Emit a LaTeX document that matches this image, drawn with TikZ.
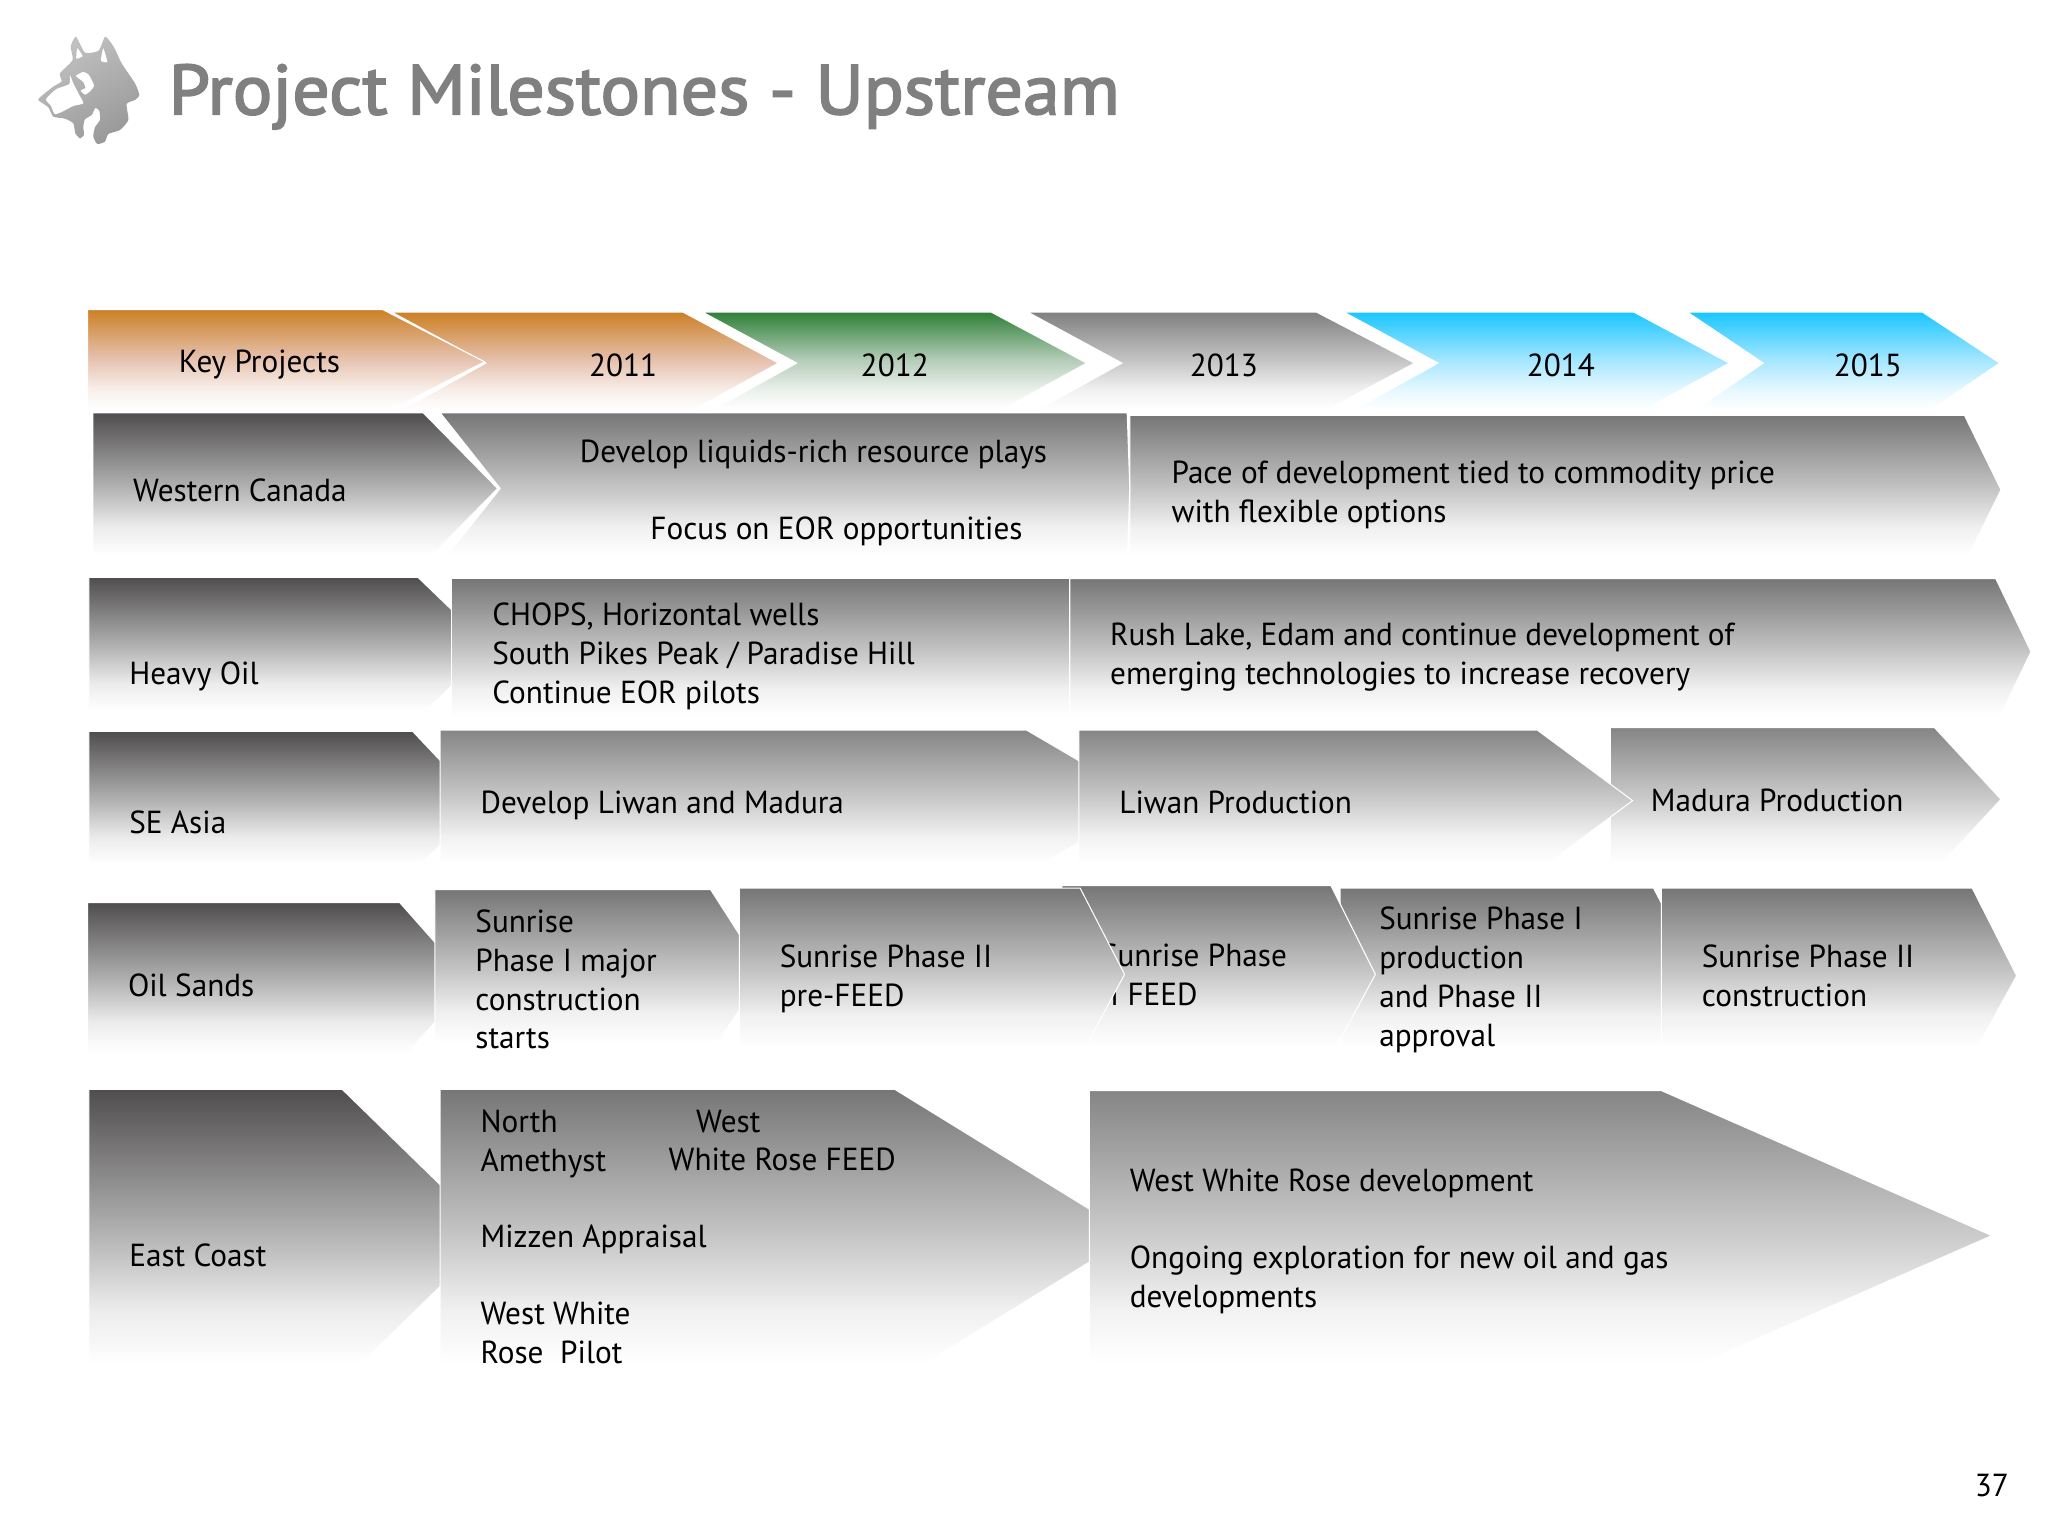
\documentclass[tikz,border=0pt]{standalone}
\usepackage{fontspec}
\setmainfont[FakeStretch=0.98]{PT Sans}
\newfontfamily\titlefont[FakeBold=2.5,FakeStretch=1.05]{PT Sans}
\definecolor{cDark}{HTML}{4F4D4E}
\definecolor{cMid}{HTML}{777677}
\definecolor{cLight}{HTML}{868586}
\definecolor{cOrange}{HTML}{CC8026}
\definecolor{cPeach}{HTML}{E5C0AC}
\definecolor{cGreen}{HTML}{2F8038}
\definecolor{cSage}{HTML}{B4CCB8}
\definecolor{cCyan}{HTML}{1AC6FF}
\definecolor{cSky}{HTML}{A4E6FF}
\definecolor{cHead}{HTML}{808080}
\newcommand{\ramp}[3]{\pgfdeclareverticalshading{#1}{100bp}{color(0bp)=(white);color(28bp)=(white);color(37.5bp)=(#3!11!white);color(50bp)=(#3!42!white);color(75bp)=(#2);color(100bp)=(#2)}}
\ramp{gDark}{cDark}{cDark}
\ramp{gMid}{cMid}{cMid}
\ramp{gLight}{cLight}{cLight}
\ramp{gHead}{cHead}{cHead}
\pgfdeclareverticalshading{gOrange}{100bp}{color(0bp)=(white);color(28bp)=(white);color(37.5bp)=(cPeach!28!white);color(52bp)=(cPeach);color(75bp)=(cOrange);color(100bp)=(cOrange)}
\pgfdeclareverticalshading{gGreen}{100bp}{color(0bp)=(white);color(28bp)=(white);color(37.5bp)=(cSage!28!white);color(52bp)=(cSage);color(75bp)=(cGreen);color(100bp)=(cGreen)}
\pgfdeclareverticalshading{gCyan}{100bp}{color(0bp)=(white);color(28bp)=(white);color(37.5bp)=(cSky!28!white);color(52bp)=(cSky);color(75bp)=(cCyan);color(100bp)=(cCyan)}
\tikzset{
  bar/.style={shade,shading=#1,draw=white,line width=0.8pt,line join=miter},
  txt/.style={anchor=north west,inner sep=0pt,outer sep=0pt,align=left,text=black,
    font=\fontsize{24.4}{29.7}\selectfont}
}
\newcommand{\tb}[4][txt]{\node[#1] (#2) at #3 {\rule{0pt}{22pt}#4};}
\begin{document}
\begin{tikzpicture}[x=1pt,y=-1pt]
\path[fill=white] (0,0) rectangle (1568,1176.8);
\useasboundingbox (0,0) rectangle (1568,1176.8);
% logo
\begin{scope}[shift={(15.3,15.3)},x=0.2552pt,y=-0.2552pt]
\path[shade,top color=black!24,bottom color=black!40,shading angle=30] plot[smooth cycle,tension=0.35] coordinates {
 (168,50)(195,98)(236,92)(256,50)(282,82)(305,130)(345,190)(358,225)(345,240)(320,252)(325,300)(300,330)(265,342)(255,365)(232,372)(220,350)(225,322)(240,300)(238,272)(226,264)(215,285)(195,298)(190,320)(192,345)(180,355)(166,340)(160,310)(135,296)(100,290)(85,262)(55,240)(72,222)(100,200)(125,184)(120,160)(158,120)(152,80)};
\fill[white] plot[smooth cycle,tension=0.3] coordinates {(172,85)(169,116)(188,108)};
\fill[white] plot[smooth cycle,tension=0.3] coordinates {(250,85)(243,122)(262,126)};
\fill[white] plot[smooth cycle,tension=0.35] coordinates {(78,238)(108,208)(148,192)(150,166)(160,190)(178,225)(190,250)(160,258)(125,276)(104,282)(92,256)};
\fill[white] plot[smooth cycle,tension=0.35] coordinates {(168,168)(190,156)(206,164)(222,196)(212,212)(196,224)(182,212)(196,204)(190,186)};
\end{scope}
\node[anchor=base west,inner sep=0pt,text=cHead,font=\fontsize{54}{60}\selectfont\titlefont] (title) at (129,87.5) {Project Milestones - Upstream};
% header row
\path[bar=gCyan] (1292,239)--(1472,239)--(1531,278)--(1472,318)--(1292,318)--(1350,278)--cycle;
\path[bar=gCyan] (1029,239)--(1251,239)--(1324,278)--(1251,318)--(1029,318)--(1101,278)--cycle;
\path[bar=gHead] (787,239)--(1008,239)--(1083,278)--(1008,318)--(787,318)--(859,278)--cycle;
\path[bar=gGreen] (538,239)--(759,239)--(832,278)--(759,318)--(538,318)--(610,278)--cycle;
\path[bar=gOrange] (300,239)--(523,239)--(596,278)--(523,318)--(300,318)--(372,278)--cycle;
\path[bar=gOrange] (67,237)--(293,237)--(371,277)--(293,317)--(67,317)--cycle;
\tb{t0}{(137,263)}{Key Projects}
\tb{t11}{(451,266)}{2011}
\tb{t12}{(659,266)}{2012}
\tb{t13}{(911,266)}{2013}
\tb{t14}{(1169,266)}{2014}
\tb{t15}{(1404,266)}{2015}
% row 1
\path[bar=gMid] (865,318)--(1504,318)--(1532,375)--(1504,432)--(865,432)--cycle;
\path[bar=gMid] (337,316)--(863,316)--(865,374)--(863,432)--(337,432)--(383,374)--cycle;
\path[bar=gDark] (71,316)--(324,316)--(381,374)--(324,432)--(71,432)--cycle;
\tb{wc}{(102,362)}{Western Canada}
\tb{wc1}{(444,332)}{Develop liquids-rich resource plays}
\tb{wc2}{(498,391)}{Focus on EOR opportunities}
\tb{wc3}{(897,348)}{Pace of development tied to commodity price\\with flexible options}
% row 2
\path[bar=gDark] (68,442)--(320,442)--(376,496)--(320,550)--(68,550)--cycle;
\path[bar=gMid] (819,443)--(1528,443)--(1555,499)--(1528,555)--(819,555)--cycle;
\path[bar=gMid] (346,443)--(819,443)--(819,555)--(346,555)--cycle;
\tb{ho}{(99,502)}{Heavy Oil}
\tb{ho1}{(377,457)}{CHOPS, Horizontal wells\\South Pikes Peak / Paradise Hill\\Continue EOR pilots}
\tb{ho2}{(850,472)}{Rush Lake, Edam and continue development of\\emerging technologies to increase recovery}
% row 3
\path[bar=gDark] (68,560)--(316,560)--(368,615)--(316,668)--(68,668)--cycle;
\path[bar=gLight] (337,559)--(786,559)--(880,614)--(786,668)--(337,668)--cycle;
\path[bar=gLight] (1233,557)--(1481,557)--(1532,612)--(1481,667)--(1233,667)--cycle;
\path[bar=gLight] (826,559)--(1177,559)--(1250,613)--(1177,667)--(826,667)--cycle;
\tb{se}{(99,616)}{SE Asia}
\tb{se1}{(368,601)}{Develop Liwan and Madura}
\tb{se2}{(857,601)}{Liwan Production}
\tb{se3}{(1264,599)}{Madura Production}
% row 4
\path[bar=gDark] (67,691)--(306,691)--(360,752)--(306,813)--(67,813)--cycle;
\path[bar=gMid] (1026,680)--(1266,680)--(1300,745)--(1266,809)--(1026,809)--cycle;
\path[bar=gMid] (1272,680)--(1510,680)--(1544,747)--(1510,809)--(1272,809)--cycle;
\path[bar=gMid] (813,678)--(1019,678)--(1053,746)--(1019,809)--(813,809)--cycle;
\tb{os3}{(843,718)}{Sunrise Phase\\II FEED}
\path[bar=gMid] (333,681)--(544,681)--(585,745)--(544,806)--(333,806)--cycle;
\path[bar=gMid] (566,680)--(827,680)--(861,746)--(827,809)--(566,809)--cycle;
\tb{os}{(98,741)}{Oil Sands}
\tb{os1}{(364,692)}{Sunrise\\Phase I major\\construction\\starts}
\tb{os2}{(597,719)}{Sunrise Phase II\\pre-FEED}
\tb{os4}{(1056,690)}{Sunrise Phase I\\production\\and Phase II\\approval}
\tb{os5}{(1303,719)}{Sunrise Phase II\\construction}
% row 5
\path[bar=gDark] (68,834)--(262,834)--(377,946)--(262,1058)--(68,1058)--cycle;
\path[bar=gMid] (337,834)--(685,834)--(867,946)--(685,1058)--(337,1058)--cycle;
\path[bar=gLight] (834,835)--(1272,835)--(1525,946)--(1272,1057)--(834,1057)--cycle;
\tb{ec}{(99,948)}{East Coast}
\tb{ec1}{(368,845)}{North\\Amethyst}
\tb{ec2}{(533,845)}{West}
\tb{ec3}{(512,874)}{White Rose FEED}
\tb{ec4}{(368,933)}{Mizzen Appraisal}
\tb{ec5}{(368,992)}{West White\\Rose\ \ Pilot}
\tb{ec6}{(865,890)}{West White Rose development}
\tb{ec7}{(865,949)}{Ongoing exploration for new oil and gas\\developments}
\tb{pg}{(1512,1124)}{37}
\end{tikzpicture}
\end{document}
